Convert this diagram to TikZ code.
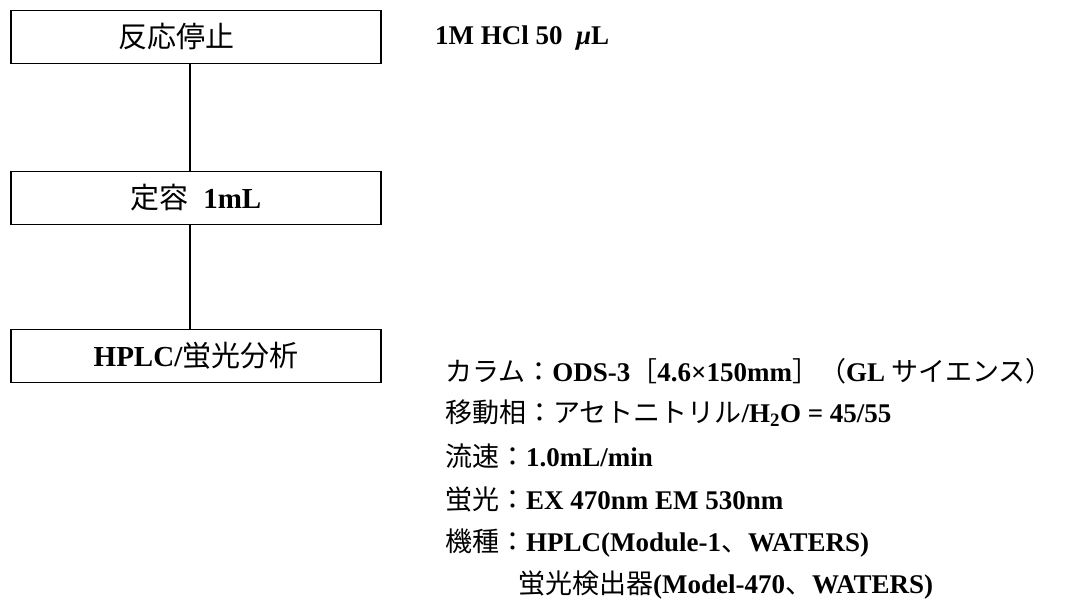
\documentclass[tikz,border=0pt]{standalone}
\usepackage{fontspec}
\setmainfont{Liberation Serif}
\newfontfamily\cjk{Noto Sans CJK JP}
\newcommand\jp[1]{{\cjk\mdseries #1}}
\begin{document}
\begin{tikzpicture}[x=1pt,y=-1pt,
  procbox/.style={draw, line width=1.5pt, minimum width=370pt, minimum height=53pt, inner sep=0pt,
    font=\fontsize{29}{33}\selectfont\bfseries},
  note/.style={anchor=west, inner sep=0pt, font=\fontsize{27}{32}\selectfont\bfseries},
  link/.style={line width=1.2pt}]
\useasboundingbox (0,0) rectangle (1075,606);
\node[procbox] (b1) at (196,37) {\jp{反応停止}\hspace*{40pt}};
\node[procbox] (b2) at (196,198) {\jp{定容}\hspace{0.5em}1mL};
\node[procbox] (b3) at (196,356) {HPLC/\jp{蛍光分析}};
\draw[link] ([xshift=-6pt]b1.south) -- ([xshift=-6pt]b2.north);
\draw[link] ([xshift=-6pt]b2.south) -- ([xshift=-6pt]b3.north);
\node[note] (t0) at (435,38) {1M HCl 50\hspace{0.5em}\textit{μ}L};
\node[note] (t1) at (445,371) {\jp{カラム：}ODS-3\jp{［}4.6×150mm\jp{］（}GL \jp{サイエンス）}};
\node[note] (t2) at (445,413) {\jp{移動相：アセトニトリル}/H\textsubscript{2}O = 45/55};
\node[note] (t3) at (445,456) {\jp{流速：}1.0mL/min};
\node[note] (t4) at (445,499) {\jp{蛍光：}EX 470nm EM 530nm};
\node[note] (t5) at (445,543) {\jp{機種：}HPLC(Module-1\jp{、}WATERS)};
\node[note] (t6) at (518,585) {\jp{蛍光検出器}(Model-470\jp{、}WATERS)};
\end{tikzpicture}
\end{document}
